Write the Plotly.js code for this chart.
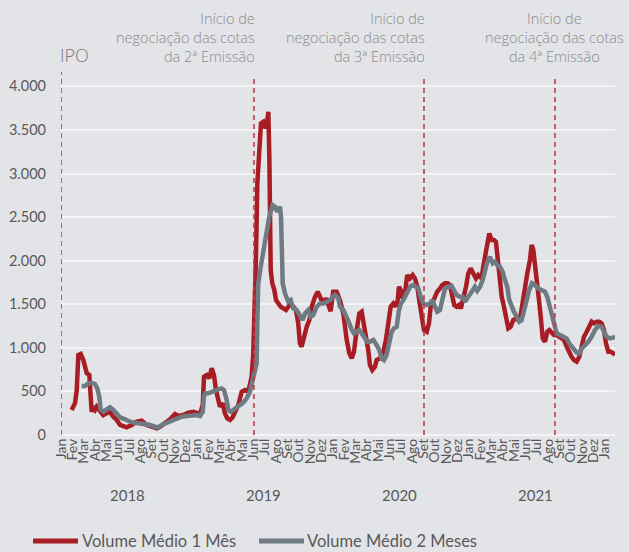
<!DOCTYPE html>
<html><head><meta charset="utf-8">
<script src="https://cdn.plot.ly/plotly-3.0.1.min.js"></script>
<style>body{margin:0;background:#e3e4e8}</style>
</head><body><div id="chart" style="width:629px;height:552px"></div>
<script>
// month names (tick labels), Jan 2018 .. Jan 2022
const monthNames = ['Jan','Fev','Mar','Abr','Mai','Jun','Jul','Ago','Set','Out','Nov','Dez'];
const yearLabels = ['2018','2019','2020','2021'];
const seriesNames = ['Volume Médio 1 Mês', 'Volume Médio 2 Meses'];
const seriesColors = ['#a81c24', '#6f7a83'];

// x values: months elapsed since Jan 2018
const red_m = [0.94,1.24,1.39,1.53,1.74,1.97,2.27,2.50,2.62,2.71,2.85,3.00,3.15,3.44,3.73,4.03,4.32,4.62,4.92,5.21,5.50,5.80,6.24,6.68,7.12,7.56,8.01,8.45,8.74,9.18,9.62,10.06,10.35,10.79,11.24,11.68,11.98,12.27,12.51,12.62,12.86,13.09,13.30,13.50,13.68,13.88,14.03,14.27,14.47,14.68,14.92,15.15,15.36,15.65,15.95,16.24,16.53,16.83,16.97,17.12,17.21,17.33,17.50,17.65,17.86,18.01,18.15,18.30,18.39,18.45,18.51,18.65,18.83,18.98,19.18,19.39,19.62,19.86,20.06,20.27,20.50,20.74,20.94,21.09,21.24,21.45,21.69,21.92,22.13,22.42,22.66,22.92,23.15,23.39,23.59,23.80,24.03,24.33,24.62,24.92,25.22,25.45,25.66,25.86,26.10,26.33,26.54,26.68,26.92,27.12,27.27,27.48,27.71,27.86,28.16,28.45,28.68,28.89,29.10,29.33,29.54,29.72,29.83,29.98,30.16,30.36,30.56,30.80,31.04,31.24,31.45,31.62,31.84,32.04,32.28,32.48,32.63,32.81,33.01,33.21,33.45,33.65,33.89,34.13,34.33,34.54,34.71,34.92,35.13,35.30,35.51,35.75,35.95,36.16,36.39,36.63,36.83,37.13,37.27,37.42,37.63,37.80,38.01,38.22,38.39,38.51,38.69,38.90,39.10,39.28,39.48,39.69,39.92,40.16,40.36,40.57,40.75,40.95,41.16,41.39,41.54,41.69,41.84,41.98,42.19,42.37,42.52,42.72,42.92,43.10,43.31,43.51,43.75,43.98,44.19,44.40,44.63,44.86,45.07,45.28,45.52,45.75,45.96,46.16,46.40,46.63,46.84,47.04,47.28,47.51,47.72,47.93,48.10,48.31,48.52,48.75,48.90];
const red_v = [287,367,516,918,930,860,711,690,440,267,310,287,325,267,229,249,265,210,172,115,95,88,115,153,164,115,95,77,95,134,180,241,218,229,256,267,249,241,344,669,688,650,765,688,516,364,325,364,249,191,172,203,267,344,497,516,497,669,937,1472,2045,2887,3192,3575,3594,3536,3536,3708,3192,2428,1892,1740,1663,1548,1510,1472,1453,1434,1472,1510,1472,1434,1281,1052,1013,1128,1242,1319,1472,1586,1644,1568,1510,1568,1510,1420,1644,1644,1548,1395,1090,937,880,956,1204,1395,1415,1319,1166,975,803,746,784,860,880,956,1090,1281,1472,1510,1472,1548,1701,1663,1568,1625,1835,1797,1835,1797,1701,1548,1357,1204,1185,1281,1472,1529,1586,1644,1682,1720,1740,1740,1720,1586,1491,1472,1491,1453,1548,1701,1854,1912,1854,1797,1835,1797,1930,2045,2199,2313,2237,2237,2217,2045,1854,1586,1472,1319,1224,1242,1319,1338,1319,1376,1548,1701,1854,2007,2179,2122,1969,1778,1548,1319,1109,1070,1185,1204,1166,1147,1147,1128,1109,1090,1013,937,898,860,841,898,1013,1128,1185,1242,1300,1281,1300,1300,1281,1204,1052,956,956,937,918];

const gray_m = [1.83,2.12,2.41,2.71,3.00,3.20,3.38,3.50,3.73,4.03,4.32,4.62,4.92,5.21,5.65,6.09,6.53,6.97,7.41,7.86,8.30,8.59,8.89,9.33,9.77,10.21,10.65,11.09,11.54,11.98,12.27,12.51,12.62,12.71,13.00,13.30,13.59,13.88,14.18,14.39,14.62,14.77,14.98,15.21,15.51,15.80,16.09,16.39,16.68,16.92,17.12,17.27,17.33,17.41,17.63,17.86,18.09,18.38,18.68,18.89,19.09,19.33,19.42,19.48,19.57,19.77,20.06,20.27,20.50,20.80,21.09,21.33,21.54,21.83,22.04,22.27,22.57,22.86,23.15,23.50,23.89,24.18,24.48,24.62,24.92,25.22,25.45,25.66,25.86,26.10,26.33,26.54,26.77,27.04,27.27,27.57,27.86,28.09,28.30,28.51,28.74,28.98,29.19,29.39,29.63,29.83,30.01,30.21,30.45,30.65,30.86,31.09,31.33,31.54,31.75,31.98,32.28,32.57,32.77,33.01,33.21,33.45,33.65,33.89,34.18,34.48,34.68,34.92,35.21,35.45,35.66,35.86,36.10,36.34,36.54,36.74,36.99,37.22,37.42,37.63,37.86,38.10,38.31,38.51,38.75,38.98,39.19,39.39,39.57,39.78,39.98,40.22,40.45,40.66,40.87,41.10,41.33,41.57,41.84,42.13,42.43,42.72,42.92,43.10,43.31,43.51,43.75,44.04,44.33,44.63,44.86,45.07,45.28,45.52,45.75,45.96,46.25,46.54,46.84,47.13,47.42,47.72,47.93,48.16,48.46,48.75,48.90];
const gray_v = [562,562,593,600,585,535,440,295,267,287,318,287,241,203,180,153,141,134,126,115,95,88,115,141,172,191,210,218,229,229,218,267,440,478,478,497,516,524,535,516,401,287,267,287,318,333,371,421,497,631,730,822,1281,1740,1930,2122,2313,2504,2638,2619,2561,2619,2504,2045,1740,1625,1529,1548,1453,1434,1376,1319,1395,1434,1357,1376,1472,1510,1510,1529,1568,1606,1568,1472,1434,1357,1281,1204,1166,1185,1204,1166,1128,1070,1070,1090,1032,975,880,860,918,1070,1185,1224,1242,1434,1510,1548,1606,1663,1709,1720,1701,1682,1586,1510,1491,1510,1548,1472,1415,1434,1568,1682,1701,1709,1663,1606,1586,1586,1529,1568,1600,1663,1701,1655,1701,1778,1892,1988,2045,1969,1988,1950,1930,1873,1778,1701,1548,1472,1415,1357,1300,1319,1434,1548,1663,1740,1720,1682,1663,1644,1586,1491,1357,1242,1166,1147,1128,1109,1052,1013,975,944,937,994,1032,1070,1128,1204,1250,1242,1185,1128,1109,1120,1109];

// events (months since Jan 2018) and their labels
const eventMonths = [0, 17.03, 32.04, 43.6];
const eventLabels = ['IPO',
  'Início de<br>negociação das cotas<br>da 2ª Emissão',
  'Início de<br>negociação das cotas<br>da 3ª Emissão',
  'Início de<br>negociação das cotas<br>da 4ª Emissão'];

const tickVals = [], tickText = [];
for (let i = 0; i <= 48; i++) { tickVals.push(i); tickText.push(monthNames[i % 12]); }

const YMAX = 4165;
const traces = [
  {x: red_m, y: red_v, name: seriesNames[0], mode: 'lines',
   line: {color: seriesColors[0], width: 4.5}},
  {x: gray_m, y: gray_v, name: seriesNames[1], mode: 'lines',
   line: {color: seriesColors[1], width: 4.5}}
];

const shapes = eventMonths.map((m, i) => ({
  type: 'line', xref: 'x', yref: 'y', x0: m, x1: m, y0: 0, y1: i === 0 ? YMAX : 4130,
  line: {color: 'rgba(192,57,66,0.8)', width: 2, dash: '5px,4px'}, layer: 'above'
}));

const annFont = {family: 'Open Sans', size: 14.5, color: '#8a8a8a', weight: 300};
const annotations = [];
eventLabels.forEach((t, i) => {
  if (i === 0) {
    annotations.push({x: eventMonths[i], y: 1.047, xref: 'x', yref: 'paper', text: t,
      showarrow: false, xanchor: 'left', yanchor: 'middle', xshift: -3,
      font: {family: 'Open Sans', size: 18, color: '#7a7a7a', weight: 300}});
  } else {
    const centered = i === 3;
    annotations.push({x: eventMonths[i], y: 1.178, xref: 'x', yref: 'paper', text: t,
      showarrow: false, xanchor: centered ? 'center' : 'right', align: centered ? 'center' : 'right',
      xshift: centered ? 0 : 3,
      yanchor: 'top', font: annFont});
  }
});
yearLabels.forEach((y, i) => {
  annotations.push({x: i * 12 + 5.9, y: -0.165, xref: 'x', yref: 'paper', text: y,
    showarrow: false, xanchor: 'center', yanchor: 'middle',
    font: {family: 'Lato', size: 15, color: '#595959'}});
});

// legend drawn below the plot (pixel positions converted to paper units)
const W = 554, H = 363, L = 61, B = 435;
const px = v => (v - L) / W, py = v => (B - v) / H;
const legendItems = [{x0: 33, x1: 78, tx: 80}, {x0: 259, x1: 304, tx: 305}];
legendItems.forEach((it, i) => {
  shapes.push({type: 'line', xref: 'paper', yref: 'paper', x0: px(it.x0), x1: px(it.x1),
    y0: py(541), y1: py(541), line: {color: seriesColors[i], width: 5}});
  annotations.push({x: px(it.tx), y: py(541), xref: 'paper', yref: 'paper', text: seriesNames[i],
    showarrow: false, xanchor: 'left', yanchor: 'middle',
    font: {family: 'Lato', size: 16.5, color: '#595959'}});
});

const layout = {
  width: 629, height: 552,
  margin: {l: 61, r: 14, t: 72, b: 117, autoexpand: false},
  paper_bgcolor: '#e3e4e8', plot_bgcolor: '#e3e4e8',
  separators: ',.',
  showlegend: false,
  xaxis: {range: [0, 48.9], tickvals: tickVals, ticktext: tickText, tickangle: -90,
    showgrid: false, zeroline: false, showline: false, ticks: '', automargin: false,
    tickfont: {family: 'Lato', size: 14, color: '#595959'}},
  yaxis: {range: [0, YMAX], dtick: 500, tickformat: ',.0f', showgrid: true,
    gridcolor: '#f4f4f5', gridwidth: 2, zeroline: true, zerolinecolor: '#f4f4f5', zerolinewidth: 2,
    showline: false, ticks: '', automargin: false, ticklabelstandoff: 14,
    tickfont: {family: 'Lato', size: 14.5, color: '#595959'}},
  shapes: shapes, annotations: annotations
};
Plotly.newPlot('chart', traces, layout, {staticPlot: true, displayModeBar: false});
</script></body></html>
